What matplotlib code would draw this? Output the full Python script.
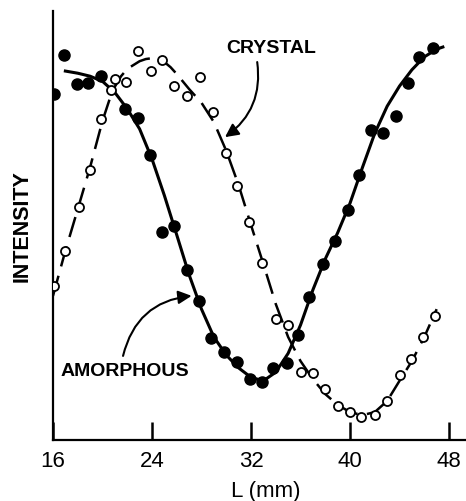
import matplotlib
matplotlib.use("Agg")
import matplotlib.pyplot as plt

plt.rcParams['font.family'] = ['Liberation Sans', 'DejaVu Sans']
plt.rcParams['lines.scale_dashes'] = False

# measured points (L in mm, intensity in arbitrary units)
amorph_L = [16.1, 16.9, 17.9, 18.8, 19.9, 21.8, 22.9, 23.8, 24.8, 25.8, 26.8,
            27.8, 28.8, 29.8, 30.9, 31.9, 32.9, 33.8, 34.9, 35.8, 36.7, 37.8,
            38.8, 39.8, 40.7, 41.7, 42.7, 43.7, 44.7, 45.6, 46.7]
amorph_I = [80.7, 89.7, 83.0, 83.2, 84.8, 77.2, 75.1, 66.4, 48.5, 49.9, 39.6,
            32.4, 23.8, 20.5, 18.2, 14.2, 13.5, 16.8, 17.9, 24.5, 33.3, 41.0,
            46.4, 53.6, 61.8, 72.3, 71.6, 75.5, 83.2, 89.3, 91.4]

cryst_L = [16.1, 17.0, 18.1, 19.0, 19.9, 20.7, 21.0, 21.9, 22.9, 23.9, 24.8,
           25.8, 26.8, 27.9, 28.9, 30.0, 30.9, 31.8, 32.9, 34.0, 35.0, 36.0,
           37.0, 38.0, 39.0, 40.0, 40.9, 42.0, 43.0, 44.0, 44.9, 45.9, 46.9]
cryst_I = [35.9, 44.1, 54.3, 62.9, 74.8, 81.6, 84.1, 83.4, 90.7, 86.0, 88.6,
           82.5, 80.2, 84.6, 76.5, 66.9, 59.2, 50.8, 41.3, 28.2, 26.8, 15.9,
           15.6, 11.9, 7.9, 6.5, 5.4, 5.8, 9.1, 15.2, 18.9, 24.0, 28.9]

# hand-drawn fit curves
amorph_fit_L = [17.0, 18.0, 19.0, 20.0, 21.0, 22.0, 23.0, 24.0, 25.0, 26.0,
                27.0, 28.0, 29.0, 30.0, 31.0, 32.0, 33.0, 34.0, 35.0, 36.0,
                37.0, 38.0, 39.0, 40.0, 41.0, 42.0, 43.0, 44.0, 45.0, 46.0,
                47.0, 47.5]
amorph_fit_I = [86.0, 85.5, 84.8, 83.6, 81.0, 77.2, 72.5, 65.5, 57.0, 47.8,
                38.5, 30.5, 24.0, 19.8, 16.8, 14.6, 13.8, 15.8, 20.2, 26.8,
                35.0, 42.2, 48.3, 55.2, 63.5, 71.5, 77.8, 82.5, 86.3, 89.3,
                91.1, 91.6]

cryst_fit_L = [16.0, 17.0, 18.0, 19.0, 20.0, 20.8, 21.5, 22.0, 22.5, 23.0,
               23.5, 24.0, 24.5, 25.0, 25.5, 26.0, 27.0, 28.0, 29.0, 30.0,
               31.0, 32.0, 33.0, 34.0, 35.0, 36.0, 37.0, 38.0, 39.0, 40.0,
               41.0, 42.0, 43.0, 44.0, 45.0, 46.0, 47.0]
cryst_fit_I = [33.6, 44.1, 53.8, 63.6, 74.4, 81.4, 84.8, 86.5, 87.4, 88.3,
               88.8, 89.0, 88.8, 88.1, 86.9, 85.3, 81.8, 78.6, 74.1, 67.4,
               59.4, 50.1, 41.0, 31.7, 24.0, 18.4, 14.2, 10.7, 8.2, 6.5,
               5.8, 6.5, 9.1, 13.8, 18.4, 24.0, 30.5]

xticks = [16, 24, 32, 40, 48]

fig = plt.figure(figsize=(4.66, 5.02), dpi=100)
ax = fig.add_axes([0.1137, 0.1215, 0.8863, 0.8546])

ax.plot(amorph_fit_L, amorph_fit_I, color='black', lw=2.2, zorder=2)
ax.plot(cryst_fit_L, cryst_fit_I, color='black', lw=1.8, dashes=(15, 7), zorder=2)
ax.plot(amorph_L, amorph_I, 'o', color='black', ms=8, zorder=3)
ax.plot(cryst_L, cryst_I, 'o', mfc='white', mec='black', mew=1.3, ms=6.5, zorder=4)

ax.text(33.6, 91.4, 'CRYSTAL', fontsize=14, fontweight='bold', ha='center', va='center')
ax.annotate('', xy=(29.9, 70.6), xytext=(32.5, 88.1),
            arrowprops=dict(arrowstyle='-|>', connectionstyle='arc3,rad=-0.3',
                            color='black', lw=1.5, mutation_scale=20,
                            shrinkA=0, shrinkB=0))
ax.text(21.8, 16.2, 'AMORPHOUS', fontsize=14, fontweight='bold', ha='center', va='center')
ax.annotate('', xy=(27.2, 33.6), xytext=(21.66, 19.6),
            arrowprops=dict(arrowstyle='-|>', connectionstyle='arc3,rad=-0.35',
                            color='black', lw=1.5, mutation_scale=20,
                            shrinkA=0, shrinkB=0))

ax.set_xlim(16, 49.37)
ax.set_ylim(0, 100)
ax.set_xticks(xticks)
ax.set_yticks([])
ax.tick_params(axis='x', direction='in', length=13, width=1.8, labelsize=16, pad=7)
for s in ['top', 'right']:
    ax.spines[s].set_visible(False)
for s in ['left', 'bottom']:
    ax.spines[s].set_linewidth(1.6)

ax.set_xlabel('L (mm)', fontsize=16)
ax.xaxis.set_label_coords(0.516, -0.118)
ax.xaxis.label.set_va('center')
ax.set_ylabel('INTENSITY', fontsize=15.5, fontweight='bold')
ax.yaxis.set_label_coords(-0.075, 0.50)
ax.yaxis.label.set_va('center')

fig.savefig('out.png', dpi=100)
